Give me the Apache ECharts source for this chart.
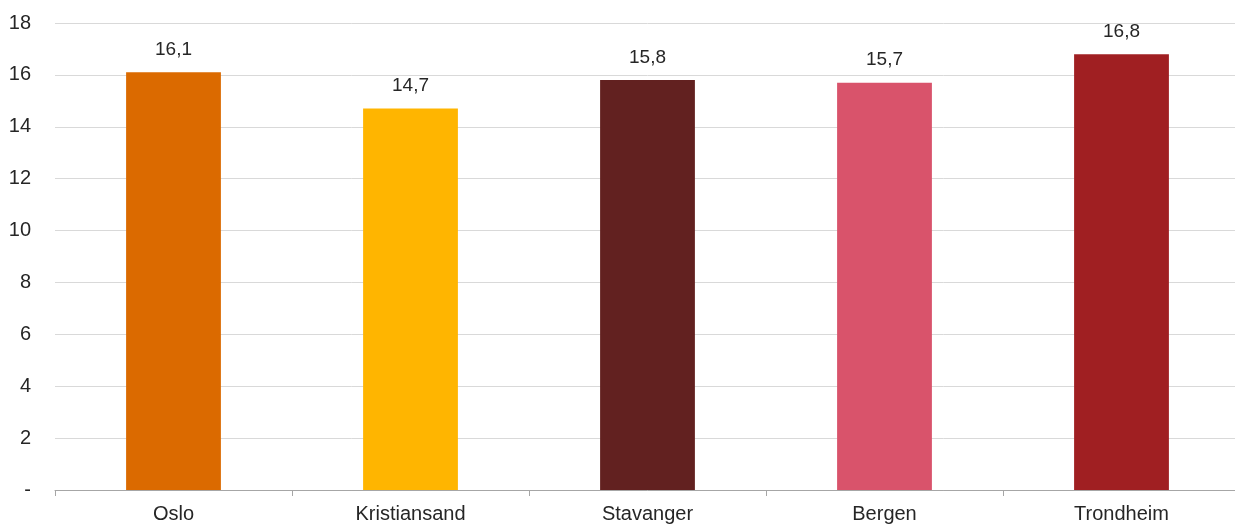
<!DOCTYPE html>
<html>
<head>
<meta charset="utf-8">
<script src="https://cdn.jsdelivr.net/npm/echarts@6/dist/echarts.min.js"></script>
<style>
  html, body { margin: 0; padding: 0; background: #fff; overflow: hidden; }
  /* plot area runs slightly past the right edge of the window */
  #chart { width: 1240px; height: 527px; }
</style>
</head>
<body>
<div id="chart"></div>
<script>
// Cities and their values
const categories = ['Oslo', 'Kristiansand', 'Stavanger', 'Bergen', 'Trondheim'];
const values = [16.1, 14.7, 15.8, 15.7, 16.8];
const barColors = ['#DB6A00', '#FFB500', '#622120', '#D9536B', '#A01F22'];
const yTicks = [0, 2, 4, 6, 8, 10, 12, 14, 16, 18];

const font = 'Liberation Sans, Arial, sans-serif';
const textColor = '#262626';
const chart = echarts.init(document.getElementById('chart'), null, { renderer: 'canvas' });

chart.setOption({
  animation: false,
  grid: { left: 55, right: 0, top: 23, bottom: 37, containLabel: false },
  xAxis: {
    type: 'category',
    data: categories,
    axisLine: { show: true, lineStyle: { color: '#a6a6a6', width: 1 } },
    axisTick: { show: true, length: 6, lineStyle: { color: '#a6a6a6' } },
    axisLabel: { color: textColor, fontFamily: font, fontSize: 20, margin: 14 }
  },
  yAxis: {
    type: 'value',
    min: yTicks[0],
    max: yTicks[yTicks.length - 1],
    interval: 2,
    axisLine: { show: false },
    axisTick: { show: false },
    splitLine: { lineStyle: { color: '#d9d9d9', width: 1 } },
    axisLabel: {
      color: textColor, fontFamily: font, fontSize: 20, margin: 24,
      padding: [3, 0, 0, 0],
      formatter: v => (v === 0 ? '-' : String(v))
    }
  },
  series: [{
    type: 'bar',
    barWidth: '40%',
    data: values.map((v, i) => ({ value: v, itemStyle: { color: barColors[i] } })),
    label: {
      show: true,
      position: 'top',
      distance: 13,
      color: textColor,
      fontFamily: font,
      fontSize: 19,
      formatter: p => p.value.toFixed(1).replace('.', ',')
    }
  }]
});
</script>
</body>
</html>
